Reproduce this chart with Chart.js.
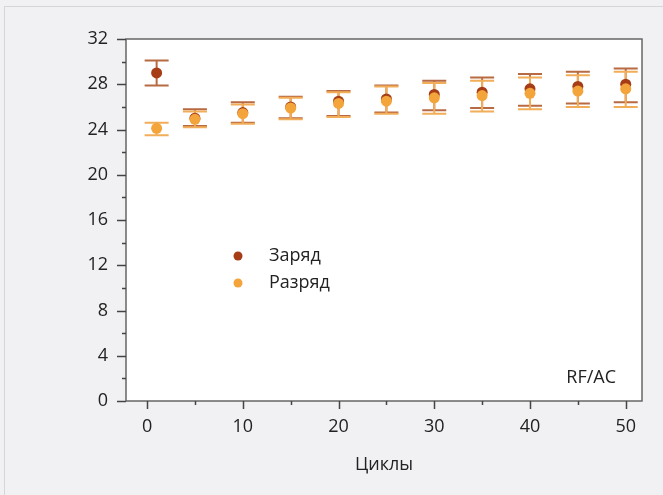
<!DOCTYPE html>
<html lang="ru">
<head>
    <meta charset="UTF-8">
    <title>RF/AC</title>
    <script src="https://cdn.jsdelivr.net/npm/chart.js"></script>
    <style>
        html, body {
            margin: 0;
            padding: 0;
            background: #f1f1f4;
        }
        #wrap {
            position: relative;
            width: 663px;
            height: 495px;
        }
        #frame {
            position: absolute;
            left: 4px;
            top: 6px;
            right: 0;
            bottom: 0;
            border-left: 1px solid #d6d6da;
            border-top: 1px solid #d6d6da;
            pointer-events: none;
        }
    </style>
</head>
<body>
<div id="wrap">
    <canvas id="chart" width="663" height="495"></canvas>
    <div id="frame"></div>
</div>
<script>
    const cycles = [1, 5, 10, 15, 20, 25, 30, 35, 40, 45, 50];
    const chargeMean = [29.0, 25.0, 25.5, 26.0, 26.5, 26.7, 27.1, 27.3, 27.6, 27.8, 28.0];
    const chargeLow = [27.9, 24.3, 24.6, 25.0, 25.2, 25.5, 25.7, 25.9, 26.1, 26.3, 26.4];
    const chargeHigh = [30.1, 25.8, 26.4, 26.9, 27.4, 27.9, 28.3, 28.6, 28.9, 29.1, 29.4];
    const dischargeMean = [24.1, 24.9, 25.4, 25.9, 26.3, 26.5, 26.8, 27.0, 27.2, 27.4, 27.6];
    const dischargeLow = [23.5, 24.2, 24.5, 24.9, 25.1, 25.4, 25.4, 25.6, 25.8, 26.0, 26.0];
    const dischargeHigh = [24.6, 25.6, 26.2, 26.8, 27.3, 27.8, 28.1, 28.3, 28.6, 28.8, 29.1];
    const seriesNames = ['Заряд', 'Разряд'];
    const xMajor = [0, 10, 20, 30, 40, 50];
    const xMinor = [5, 15, 25, 35, 45];
    const yMajor = [0, 4, 8, 12, 16, 20, 24, 28, 32];
    const yMinor = [2, 6, 10, 14, 18, 22, 26, 30];

    const chargeColor = '#a63d16';
    const chargeBar = '#b86a42';
    const dischargeColor = '#f3a43a';
    const dischargeBar = '#f2ad58';
    const fontFamily = '"Open Sans", "Noto Sans", sans-serif';

    // white plot area, error bars, box, minor ticks, legend and label
    const extras = {
        id: 'extras',
        beforeDraw(chart) {
            const a = chart.chartArea;
            chart.ctx.save();
            chart.ctx.fillStyle = '#fff';
            chart.ctx.fillRect(a.left, a.top, a.right - a.left, a.bottom - a.top);
            chart.ctx.restore();
        },
        beforeDatasetsDraw(chart) {
            const ctx = chart.ctx;
            const xs = chart.scales.x, ys = chart.scales.y;
            const bars = [
                { low: chargeLow, high: chargeHigh, color: chargeBar },
                { low: dischargeLow, high: dischargeHigh, color: dischargeBar }
            ];
            ctx.save();
            ctx.lineWidth = 2;
            bars.forEach(b => {
                ctx.strokeStyle = b.color;
                cycles.forEach((c, i) => {
                    const x = xs.getPixelForValue(c);
                    const y1 = ys.getPixelForValue(b.low[i]);
                    const y2 = ys.getPixelForValue(b.high[i]);
                    ctx.beginPath();
                    ctx.moveTo(x, y1); ctx.lineTo(x, y2);
                    ctx.moveTo(x - 12, y1); ctx.lineTo(x + 12, y1);
                    ctx.moveTo(x - 12, y2); ctx.lineTo(x + 12, y2);
                    ctx.stroke();
                });
            });
            ctx.restore();
        },
        afterDraw(chart) {
            const ctx = chart.ctx;
            const a = chart.chartArea;
            const xs = chart.scales.x, ys = chart.scales.y;
            ctx.save();
            ctx.strokeStyle = '#666';
            ctx.lineWidth = 1.5;
            ctx.strokeRect(a.left, a.top, a.right - a.left, a.bottom - a.top);
            ctx.strokeStyle = '#444';
            ctx.beginPath();
            yMajor.forEach(v => {
                const y = Math.round(ys.getPixelForValue(v)) + 0.5;
                ctx.moveTo(a.left - 9, y); ctx.lineTo(a.left, y);
            });
            yMinor.forEach(v => {
                const y = Math.round(ys.getPixelForValue(v)) + 0.5;
                ctx.moveTo(a.left - 4, y); ctx.lineTo(a.left, y);
            });
            xMajor.forEach(v => {
                const x = Math.round(xs.getPixelForValue(v)) + 0.5;
                ctx.moveTo(x, a.bottom); ctx.lineTo(x, a.bottom + 8);
            });
            xMinor.forEach(v => {
                const x = Math.round(xs.getPixelForValue(v)) + 0.5;
                ctx.moveTo(x, a.bottom); ctx.lineTo(x, a.bottom + 4);
            });
            ctx.stroke();

            // legend inside plot
            const lx = 238, ly = [256, 283];
            const cols = [chargeColor, dischargeColor];
            ctx.font = '18px ' + fontFamily;
            ctx.textBaseline = 'middle';
            seriesNames.forEach((n, i) => {
                ctx.beginPath();
                ctx.fillStyle = cols[i];
                ctx.arc(lx, ly[i], 4.5, 0, Math.PI * 2);
                ctx.fill();
                ctx.fillStyle = '#222';
                ctx.fillText(n, 269, ly[i]);
            });
            ctx.textAlign = 'right';
            ctx.fillText('RF/AC', a.right - 26, 378);
            ctx.restore();
        }
    };

    new Chart(document.getElementById('chart'), {
        type: 'scatter',
        data: {
            datasets: [
                {
                    label: seriesNames[1],
                    data: cycles.map((c, i) => ({ x: c, y: dischargeMean[i] })),
                    backgroundColor: dischargeColor,
                    borderColor: dischargeColor,
                    pointRadius: 5.5,
                    borderWidth: 0
                },
                {
                    label: seriesNames[0],
                    data: cycles.map((c, i) => ({ x: c, y: chargeMean[i] })),
                    backgroundColor: chargeColor,
                    borderColor: chargeColor,
                    pointRadius: 5.5,
                    borderWidth: 0
                }
            ]
        },
        options: {
            responsive: false,
            animation: false,
            layout: { padding: { top: 39, right: 21, left: 0, bottom: 0 } },
            plugins: {
                legend: { display: false },
                tooltip: { enabled: false }
            },
            scales: {
                x: {
                    type: 'linear',
                    min: -2.2,
                    max: 51.7,
                    afterBuildTicks: s => { s.ticks = xMajor.map(v => ({ value: v })); },
                    afterFit: s => { s.height = 94; },
                    grid: { display: false },
                    border: { display: false },
                    ticks: {
                        color: '#222',
                        padding: 7,
                        font: { family: fontFamily, size: 18 }
                    },
                    title: {
                        display: true,
                        text: 'Циклы',
                        color: '#222',
                        padding: { bottom: 19 },
                        font: { family: fontFamily, size: 18 }
                    }
                },
                y: {
                    min: 0,
                    max: 32,
                    afterBuildTicks: s => { s.ticks = yMajor.map(v => ({ value: v })); },
                    afterFit: s => { s.width = 126; },
                    grid: { display: false },
                    border: { display: false },
                    ticks: {
                        color: '#222',
                        padding: 10,
                        font: { family: fontFamily, size: 18 }
                    }
                }
            }
        },
        plugins: [extras]
    });
</script>
</body>
</html>
